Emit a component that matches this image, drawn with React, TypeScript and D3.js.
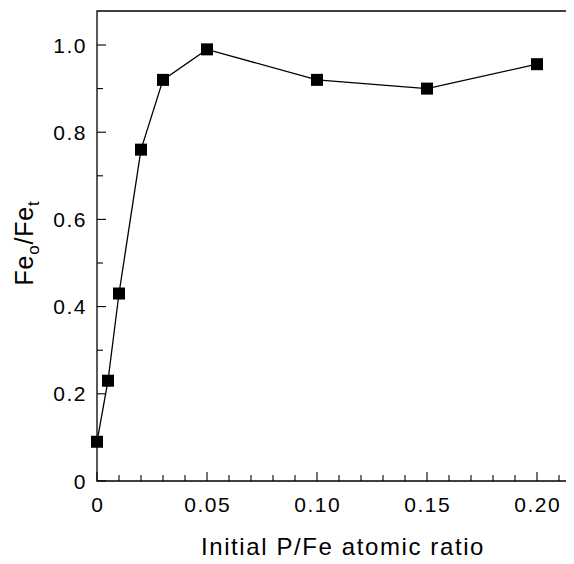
import React, { useEffect, useRef } from 'react'
import * as d3 from 'd3'

const ratios = [0, 0.005, 0.01, 0.02, 0.03, 0.05, 0.1, 0.15, 0.2]
const fractions = [0.09, 0.23, 0.43, 0.76, 0.92, 0.99, 0.92, 0.9, 0.956]
const xTicks = [0, 0.05, 0.1, 0.15, 0.2]
const xTickLabels = ['0', '0.05', '0.10', '0.15', '0.20']
const yTicks = [0, 0.2, 0.4, 0.6, 0.8, 1.0]
const yTickLabels = ['0', '0.2', '0.4', '0.6', '0.8', '1.0']

const width = 574
const height = 564
const left = 97
const top = 11
const bottom = 481

export default function App() {
  const ref = useRef<SVGSVGElement>(null)

  useEffect(() => {
    const svg = d3.select(ref.current)
    svg.selectAll('*').remove()
    const font = '"Liberation Sans", Arial, sans-serif'

    const x = d3.scaleLinear().domain([0, 0.05]).range([left, 207])
    const y = d3.scaleLinear().domain([0, 1]).range([bottom, 45])

    const xMax = x.invert(width)
    const yMax = y.invert(top)

    // frame: top, left, bottom (no right side)
    svg.append('path')
      .attr('d', `M${x(xMax)},${y(yMax)}H${left}V${bottom}H${x(xMax)}`)
      .attr('fill', 'none').attr('stroke', '#000').attr('stroke-width', 1.3)

    // x ticks, pointing inward
    const xMinor = d3.range(0, 0.2151, 0.01)
    svg.append('g').selectAll('line').data(xMinor).enter().append('line')
      .attr('x1', d => x(d)).attr('x2', d => x(d))
      .attr('y1', bottom)
      .attr('y2', (d, i) => bottom - (i % 5 === 0 ? 9 : 6))
      .attr('stroke', '#000').attr('stroke-width', 1.1)

    svg.append('g').selectAll('text').data(xTicks).enter().append('text')
      .attr('x', d => x(d) + 0.8).attr('y', 512)
      .attr('text-anchor', 'middle')
      .attr('font-family', font).attr('font-size', 21)
      .attr('letter-spacing', 1.5)
      .text((d, i) => xTickLabels[i])

    // y ticks
    const yMinor = d3.range(0, 1.05, 0.1)
    svg.append('g').selectAll('line').data(yMinor).enter().append('line')
      .attr('y1', d => y(d)).attr('y2', d => y(d))
      .attr('x1', left)
      .attr('x2', (d, i) => left + (i % 2 === 0 ? 9 : 6))
      .attr('stroke', '#000').attr('stroke-width', 1.1)

    svg.append('g').selectAll('text').data(yTicks).enter().append('text')
      .attr('x', 87).attr('y', d => y(d) + 7.5)
      .attr('text-anchor', 'end')
      .attr('font-family', font).attr('font-size', 21)
      .attr('letter-spacing', 1.5)
      .text((d, i) => yTickLabels[i])

    const pts = ratios.map((r, i) => [r, fractions[i]] as [number, number])

    const line = d3.line<[number, number]>()
      .x(d => x(d[0]))
      .y(d => y(d[1]))

    svg.append('path')
      .datum(pts)
      .attr('d', line)
      .attr('fill', 'none').attr('stroke', '#000').attr('stroke-width', 1.3)

    const s = 12
    svg.append('g').selectAll('rect').data(pts).enter().append('rect')
      .attr('x', d => x(d[0]) - s / 2).attr('y', d => y(d[1]) - s / 2)
      .attr('width', s).attr('height', s)
      .attr('fill', '#000')

    // axis titles
    svg.append('text')
      .attr('x', 343).attr('y', 555)
      .attr('text-anchor', 'middle')
      .attr('font-family', font).attr('font-size', 24)
      .attr('letter-spacing', 1.6)
      .text('Initial P/Fe atomic ratio')

    const yl = svg.append('text')
      .attr('transform', 'translate(33,243) rotate(-90)')
      .attr('text-anchor', 'middle')
      .attr('font-family', font).attr('font-size', 25)
      .attr('letter-spacing', 0.8)
    yl.append('tspan').text('Fe')
    yl.append('tspan').attr('dy', 6).attr('font-size', 17).text('o')
    yl.append('tspan').attr('dy', -6).text('/Fe')
    yl.append('tspan').attr('dy', 6).attr('font-size', 17).text('t')
  }, [])

  return (
    <div style={{ margin: -8 }}>
      <svg ref={ref} width={width} height={height} style={{ display: 'block', background: '#fff' }} />
    </div>
  )
}
